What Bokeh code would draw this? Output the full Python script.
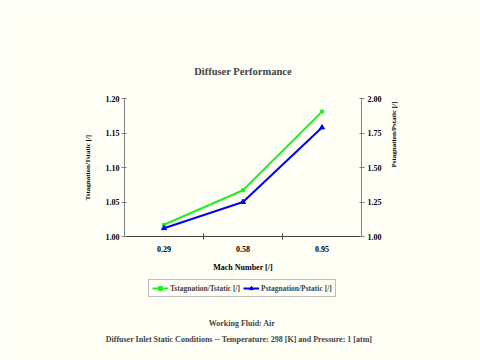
import math
from bokeh.plotting import figure
from bokeh.models import (Range1d, LinearAxis, FixedTicker, Legend, LegendItem,
                          NumeralTickFormatter, Label)
from bokeh.embed import file_html
from bokeh.resources import INLINE

categories = ["0.29", "0.58", "0.95"]
t_ratio = [1.017, 1.067, 1.181]
p_ratio = [1.06, 1.25, 1.79]
left_ticks = [1.00, 1.05, 1.10, 1.15, 1.20]
right_ticks = [1.00, 1.25, 1.50, 1.75, 2.00]

BG = "#FFFFF6"
FONT = "Liberation Serif"
AXC = "#808080"

# layout geometry (pixels): data area inside a full-canvas frame
W, H = 480, 360
DL, DR, DT, DB = 124, 361, 98, 236   # data area left/right/top/bottom
n = len(categories)
px_x = (DR - DL) / n
x_start = -DL / px_x
x_end = n + (W - DR) / px_x
l_lo, l_hi = left_ticks[0], left_ticks[-1]
r_lo, r_hi = right_ticks[0], right_ticks[-1]
dh = DB - DT
y_start = l_lo - (H - DB) * (l_hi - l_lo) / dh
y_end = l_hi + DT * (l_hi - l_lo) / dh
r_start = r_lo - (H - DB) * (r_hi - r_lo) / dh
r_end = r_hi + DT * (r_hi - r_lo) / dh

xs = [i + 0.5 for i in range(n)]

p = figure(width=W, height=H, output_backend="svg", toolbar_location=None,
           x_range=Range1d(x_start, x_end), y_range=Range1d(y_start, y_end),
           x_axis_type=None, y_axis_type=None,
           min_border_left=0, min_border_right=0, min_border_top=0, min_border_bottom=0,
           background_fill_color=BG, border_fill_color=BG, outline_line_color=None)
p.grid.visible = False
p.title.visible = False
p.extra_y_ranges = {"right": Range1d(r_start, r_end)}

def style_axis(ax):
    ax.axis_line_color = AXC
    ax.major_tick_line_color = AXC
    ax.minor_tick_line_color = AXC
    ax.major_label_text_font = FONT
    ax.major_label_text_font_style = "bold"
    ax.major_label_text_font_size = "8px"
    ax.major_label_text_color = "black"
    ax.axis_label_text_font = FONT
    ax.axis_label_text_font_style = "bold"
    ax.axis_label_text_color = "black"

xa = LinearAxis(ticker=FixedTicker(ticks=xs, minor_ticks=list(range(1, n))),
                major_label_overrides={x: c for x, c in zip(xs, categories)},
                axis_label="Mach Number [/]", fixed_location=l_lo, bounds=(0, n))
style_axis(xa)
xa.axis_line_color = "#404040"
xa.major_tick_line_color = None
xa.minor_tick_in = 3
xa.minor_tick_out = 3
xa.minor_tick_line_color = "#404040"
xa.major_label_standoff = 3
xa.axis_label_standoff = 8
xa.axis_label_text_font_size = "8px"
p.add_layout(xa, "below")

ya = LinearAxis(ticker=FixedTicker(ticks=left_ticks), axis_label="Tstagnation/Tstatic [/]",
                formatter=NumeralTickFormatter(format="0.00"), bounds=(l_lo, l_hi),
                fixed_location=0)
style_axis(ya)
ya.major_tick_in = 2
ya.major_tick_out = 3
ya.minor_tick_line_color = None
ya.major_label_standoff = 2
ya.axis_label_text_font_size = "7px"
ya.axis_label_standoff = 11
p.add_layout(ya, "left")

ra = LinearAxis(y_range_name="right", ticker=FixedTicker(ticks=right_ticks),
                axis_label="Pstagnation/Pstatic [/]",
                formatter=NumeralTickFormatter(format="0.00"), bounds=(r_lo, r_hi),
                fixed_location=n)
style_axis(ra)
ra.major_tick_in = 2
ra.major_tick_out = 3
ra.minor_tick_line_color = None
ra.major_label_standoff = 3
ra.axis_label_text_font_size = "7px"
ra.axis_label_standoff = 9
ra.axis_label_orientation = math.pi / 2
p.add_layout(ra, "right")

l1 = p.line(xs, t_ratio, line_color="#22EE22", line_width=2)
m1 = p.scatter(xs, t_ratio, marker="square", size=3, fill_color="#22EE22", line_color="#22EE22")
l2 = p.line(xs, p_ratio, line_color="#0000FF", line_width=2, y_range_name="right")
m2 = p.scatter(xs, p_ratio, marker="triangle", size=5, fill_color="#0000FF", line_color="#0000FF",
               y_range_name="right")

legend = Legend(items=[LegendItem(label="Tstagnation/Tstatic [/]", renderers=[l1, m1]),
                       LegendItem(label="Pstagnation/Pstatic [/]", renderers=[l2, m2])],
                orientation="horizontal", location=(148, 63),
                label_text_font=FONT, label_text_font_style="bold", label_text_font_size="7.5px",
                label_height=10, glyph_height=10, glyph_width=16, label_standoff=2,
                spacing=3, padding=3, margin=0,
                border_line_color="#808080", border_line_width=1,
                background_fill_color=BG, background_fill_alpha=1)
p.add_layout(legend, "center")

cx = (DL + DR) / 2
p.add_layout(Label(x=cx, y=H - 71, x_units="screen", y_units="screen",
                   text="Diffuser Performance",
                   text_font=FONT, text_font_style="bold", text_font_size="10.5px",
                   text_align="center", text_baseline="middle"))
p.add_layout(Label(x=cx, y=H - 323, x_units="screen", y_units="screen",
                   text="Working Fluid:  Air",
                   text_font=FONT, text_font_style="bold", text_font_size="8px",
                   text_align="center", text_baseline="middle"))
p.add_layout(Label(x=cx, y=H - 339, x_units="screen", y_units="screen",
                   text="Diffuser Inlet Static Conditions  --  Temperature:  298 [K] and Pressure:  1 [atm]",
                   text_font=FONT, text_font_style="bold", text_font_size="8px",
                   text_align="center", text_baseline="middle"))

html = file_html(p, INLINE)
html = html.replace("<body>", '<body style="background:%s">' % BG, 1)
open("out.html", "w").write(html)
